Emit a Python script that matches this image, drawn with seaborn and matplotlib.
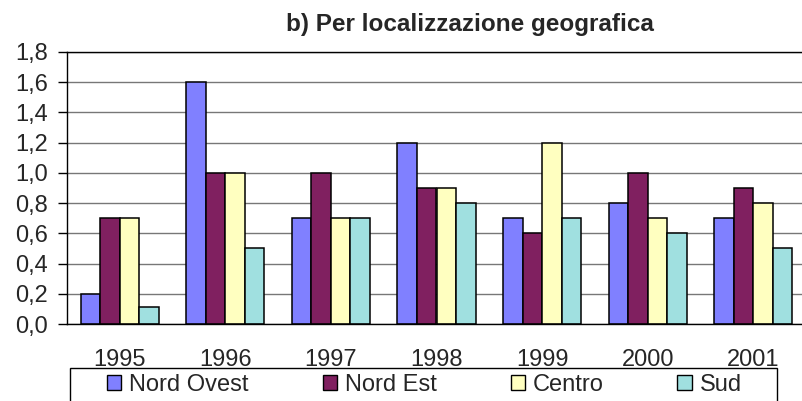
import numpy as np
import pandas as pd
import seaborn as sns
import matplotlib.pyplot as plt
from matplotlib.patches import Patch, Rectangle
from matplotlib.ticker import FuncFormatter

# data
anni = ["1995", "1996", "1997", "1998", "1999", "2000", "2001"]
zone = ["Nord Ovest", "Nord Est", "Centro", "Sud"]
nord_ovest = [0.2, 1.6, 0.7, 1.2, 0.7, 0.8, 0.7]
nord_est = [0.7, 1.0, 1.0, 0.9, 0.6, 1.0, 0.9]
centro = [0.7, 1.0, 0.7, 0.9, 1.2, 0.7, 0.8]
sud = [0.11, 0.5, 0.7, 0.8, 0.7, 0.6, 0.5]
colori = ["#8080FF", "#802060", "#FFFFC0", "#A0E0E0"]

df = pd.DataFrame({
    "Anno": anni * 4,
    "Zona": np.repeat(zone, len(anni)),
    "Valore": nord_ovest + nord_est + centro + sud,
})

sns.set_style("white")
plt.rcParams["font.family"] = ["Liberation Sans", "DejaVu Sans"]

fig = plt.figure(figsize=(8.02, 4.01), dpi=100)
ax = fig.add_axes([67 / 802, 1 - 324 / 401, 739 / 802, 272 / 401])

sns.barplot(data=df, x="Anno", y="Valore", hue="Zona", palette=colori,
            width=0.74, saturation=1, edgecolor="black", linewidth=1.1,
            legend=False, ax=ax)

ax.set_ylim(0, 1.8)
ax.set_xlim(-0.5, 6.5)
ax.set_yticks(np.arange(0, 1.81, 0.2))
ax.yaxis.set_major_formatter(FuncFormatter(lambda v, p: f"{v:.1f}".replace(".", ",")))
ax.yaxis.grid(True, color="#777777", linewidth=1)
ax.set_axisbelow(True)
ax.set_xlabel("")
ax.set_ylabel("")

for s in ["left", "bottom", "top"]:
    ax.spines[s].set_visible(True)
    ax.spines[s].set_color("black")
    ax.spines[s].set_linewidth(1)
ax.spines["right"].set_visible(False)

ax.set_xticks(np.arange(-0.5, 7, 1), minor=True)
ax.tick_params(axis="x", which="major", length=0, pad=18, labelsize=17)
ax.tick_params(axis="x", which="minor", direction="inout", length=10, width=1, color="black")
ax.tick_params(axis="y", which="major", direction="out", length=6.5, width=1,
               color="black", pad=7, labelsize=17, left=True)

fig.text(470 / 802, 1 - 25 / 401, "b) Per localizzazione geografica",
         ha="center", va="center", fontsize=17.5, fontweight="bold")

handles = [Patch(facecolor=c, edgecolor="black", linewidth=1) for c in colori]
fig.legend(handles, zone, loc="upper left", ncol=4, mode="expand",
           bbox_to_anchor=(107 / 802, 1 - 374 / 401 - 0.05, 635 / 802, 0.05),
           frameon=False, borderpad=0, borderaxespad=0, fontsize=17,
           handlelength=0.6, handleheight=0.6, handletextpad=0.35)
fig.add_artist(Rectangle((70 / 802, -0.05), 707 / 802, 1 - 368 / 401 + 0.05,
                         transform=fig.transFigure, fill=False,
                         edgecolor="black", linewidth=1, clip_on=False))

plt.savefig("out.png", dpi=100)
